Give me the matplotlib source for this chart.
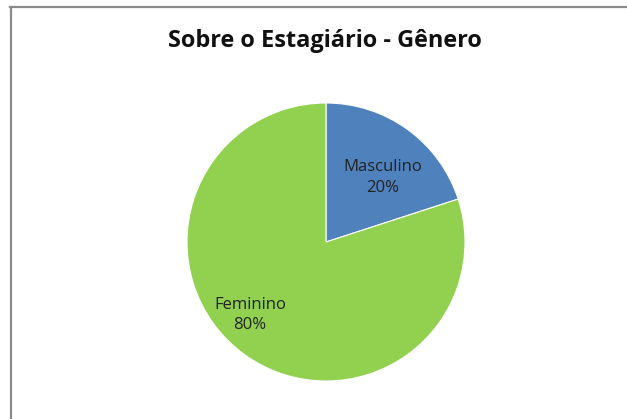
import matplotlib
matplotlib.use("Agg")
import matplotlib.pyplot as plt
from matplotlib.lines import Line2D
import numpy as np

categories = ["Masculino", "Feminino"]
values = [20, 80]
pct_labels = ["20%", "80%"]
colors = ["#4F81BD", "#92D050"]
title = "Sobre o Estagiário - Gênero"

W, H = 627, 419
fig = plt.figure(figsize=(W / 100, H / 100), dpi=100)
fig.patch.set_facecolor("white")

# frame lines (top and left)
fig.add_artist(Line2D([10 / W, 1], [1 - 7 / H, 1 - 7 / H], color="#8a8a8a", lw=1.6, transform=fig.transFigure))
fig.add_artist(Line2D([11 / W, 11 / W], [0, 1 - 8 / H], color="#8a8a8a", lw=1.6, transform=fig.transFigure))

cx, cy, r = 326, 242, 139
ax = fig.add_axes([(cx - r) / W, (H - cy - r) / H, 2 * r / W, 2 * r / H])
wedges, _ = ax.pie(values, colors=colors, startangle=90, counterclock=False,
                   wedgeprops=dict(linewidth=0.8, edgecolor="white"))
ax.set_xlim(-1, 1)
ax.set_ylim(-1, 1)
ax.set_aspect("equal")
ax.axis("off")

# label placement (distance from center, angle tweak)
place = [(0.617, -5.2), (0.758, -10.2)]
for w, cat, pct, (d, da) in zip(wedges, categories, pct_labels, place):
    ang = np.deg2rad((w.theta1 + w.theta2) / 2 + da)
    ax.text(d * np.cos(ang), d * np.sin(ang), f"{cat}\n{pct}", ha="center", va="center",
            fontsize=12, color="#222222", family="Open Sans", linespacing=1.4)

fig.text(325 / W, 1 - 47 / H, title, ha="center", va="baseline",
         fontsize=16.9, fontweight="bold", family="Open Sans", color="#111111")

fig.savefig("out.png", dpi=100)
